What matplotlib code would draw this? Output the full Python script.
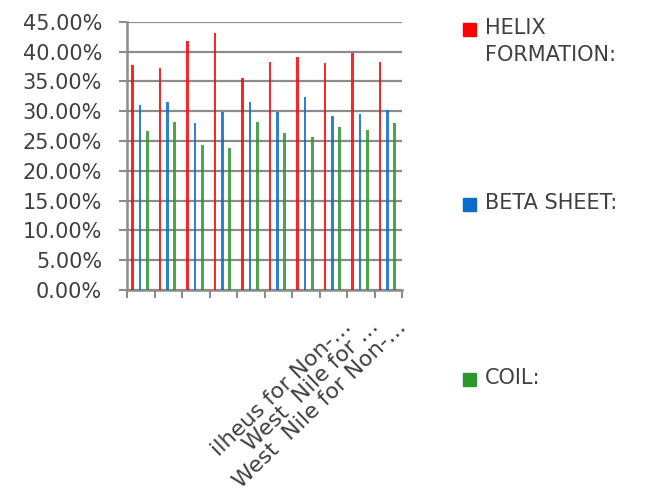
import matplotlib.pyplot as plt
import numpy as np
from matplotlib.patches import Rectangle
from matplotlib.ticker import PercentFormatter
from matplotlib.transforms import ScaledTranslation

# Data (percent)
categories = ["", "", "", "", "", "", "",
              "ilheus for Non-…", "West  Nile for …", "West  Nile for Non-…"]
helix = [37.7, 37.2, 41.7, 43.1, 35.5, 38.3, 39.1, 38.0, 39.7, 38.3]
beta = [31.0, 31.6, 28.0, 29.9, 31.6, 29.9, 32.4, 29.1, 29.6, 30.2]
coil = [26.6, 28.2, 24.3, 23.8, 28.2, 26.3, 25.7, 27.4, 26.8, 28.0]
series_names = ["HELIX\nFORMATION:", "BETA SHEET:", "COIL:"]
colors = ["#FF0000", "#0A6CCC", "#2E962E"]

GRID = "#8C8C8C"
TEXT = "#404040"

fig = plt.figure(figsize=(6.46, 4.93), dpi=100)
ax = fig.add_axes([0.1966, 0.4118, 0.4257, 0.5442])

n = len(categories)
x = np.arange(n)
offsets = [0.20, 0.47, 0.74]
for vals, off, col in zip([helix, beta, coil], offsets, colors):
    ax.bar(x + off, vals, width=0.1, color=col, alpha=0.85, linewidth=0, zorder=3)

ax.set_xlim(0, n)
ax.set_ylim(0, 45)
ax.set_yticks(np.arange(0, 46, 5))
ax.yaxis.set_major_formatter(PercentFormatter(decimals=2))
ax.yaxis.grid(True, color=GRID, linewidth=1.6, zorder=0)

# category boundaries as major ticks, labels in the middle
ax.set_xticks(np.arange(n + 1))
ax.set_xticklabels([])
ax.set_xticks(x + 0.5, minor=True)
ax.set_xticklabels(categories, minor=True, rotation=44, ha="right",
                   rotation_mode="anchor", fontsize=16, color=TEXT)
ax.tick_params(axis="x", which="minor", length=0, pad=19)
ax.tick_params(axis="x", which="major", length=6, width=1.5, color=GRID)
ax.tick_params(axis="y", length=6, width=1.5, color=GRID, pad=12,
               labelsize=15, labelcolor=TEXT)
shift = ScaledTranslation(6 / 72, 0, fig.dpi_scale_trans)
for lbl in ax.get_xticklabels(minor=True):
    lbl.set_transform(lbl.get_transform() + shift)

for side in ["top", "right"]:
    ax.spines[side].set_visible(False)
for side in ["left", "bottom"]:
    ax.spines[side].set_color(GRID)
    ax.spines[side].set_linewidth(1.8)

# legend on the right, entries spread down the figure
W, H = 646, 493
for i, (name, col) in enumerate(zip(series_names, colors)):
    top = 21 + 175 * i
    fig.patches.append(Rectangle((463 / W, 1 - (top + 15) / H), 13 / W, 13 / H,
                                 transform=fig.transFigure, color=col))
    fig.text(485 / W, 1 - (top - 3) / H, name, va="top", ha="left",
             fontsize=15, color=TEXT, linespacing=1.45)

fig.savefig("out.png", dpi=100)
